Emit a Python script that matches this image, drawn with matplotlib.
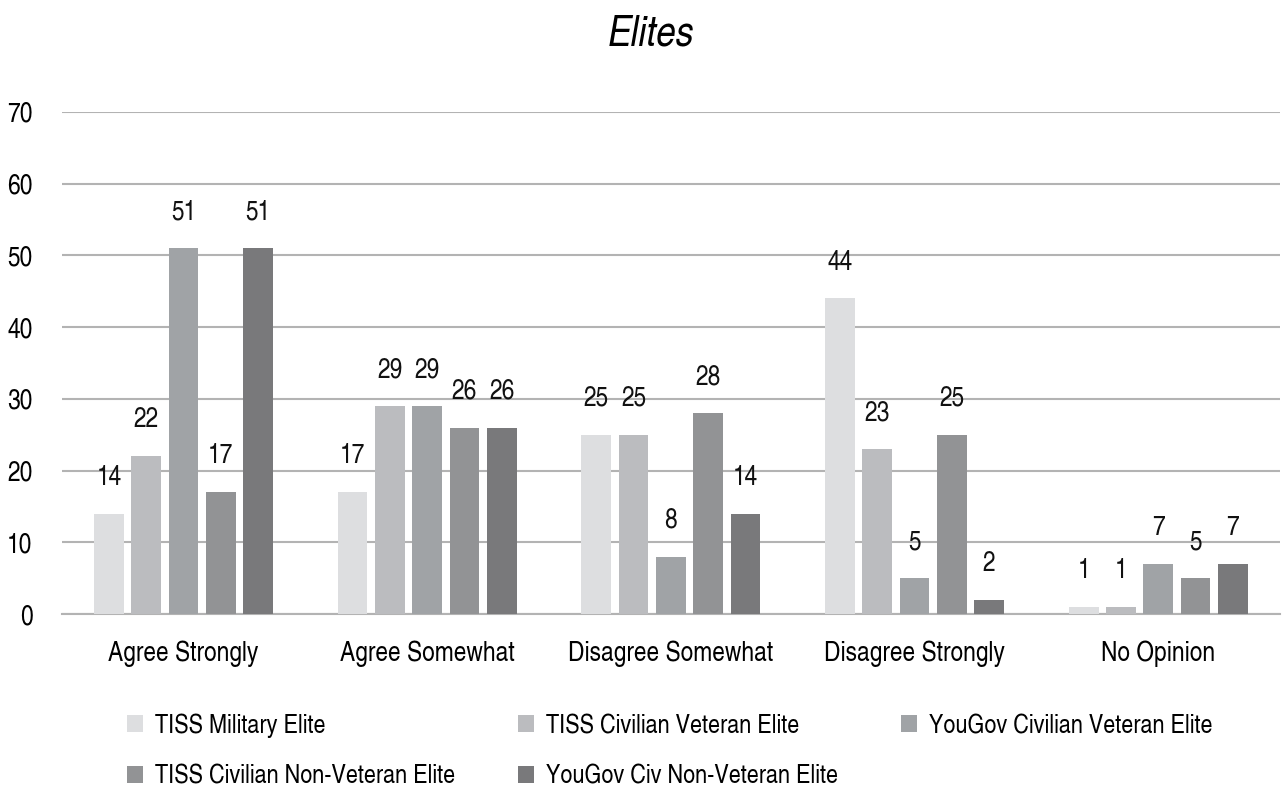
import numpy as np
import matplotlib.pyplot as plt

categories = ["Agree Strongly", "Agree Somewhat", "Disagree Somewhat",
              "Disagree Strongly", "No Opinion"]
series_names = ["TISS Military Elite", "TISS Civilian Veteran Elite",
                "YouGov Civilian Veteran Elite", "TISS Civilian Non-Veteran Elite",
                "YouGov Civ Non-Veteran Elite"]
tiss_military = [14, 17, 25, 44, 1]
tiss_civ_vet = [22, 29, 25, 23, 1]
yougov_civ_vet = [51, 29, 8, 5, 7]
tiss_civ_nonvet = [17, 26, 28, 25, 5]
yougov_civ_nonvet = [51, 26, 14, 2, 7]
colors = ["#DDDEE0", "#BBBCBF", "#A0A3A6", "#929395", "#79797B"]

plt.rcParams['font.family'] = ['TeX Gyre Heros Cn', 'DejaVu Sans']

fig = plt.figure(figsize=(12.84, 8.05), dpi=100)
ax = fig.add_axes([0.048, 0.237, 0.949, 0.624])

x = np.arange(len(categories))
step = 0.153
width = 0.122
all_series = [tiss_military, tiss_civ_vet, yougov_civ_vet, tiss_civ_nonvet, yougov_civ_nonvet]
handles = []
for i, vals in enumerate(all_series):
    pos = x + (i - 2) * step
    b = ax.bar(pos, vals, width, color=colors[i], label=series_names[i], zorder=3)
    handles.append(b)
    for p, v in zip(pos, vals):
        ax.text(p, v + 3.2, str(v), ha="center", va="bottom", fontsize=20, color="#111111")

ax.set_ylim(0, 70)
ax.set_yticks(range(0, 71, 10))
ax.set_xlim(-0.5, 4.5)
ax.set_xticks(x)
ax.set_xticklabels(categories)
ax.tick_params(axis="y", length=0, pad=21, labelsize=20)
ax.tick_params(axis="x", length=0, pad=19, labelsize=20)
ax.yaxis.grid(True, color="#B3B3B3", linewidth=1.5, zorder=0)
for s in ["top", "right", "left"]:
    ax.spines[s].set_visible(False)
ax.spines["bottom"].set_color("#B3B3B3")
ax.spines["bottom"].set_linewidth(1.5)

fig.text(0.507, 0.957, "Elites", fontsize=31, style="italic", ha="center", va="center")

order = [0, 3, 1, 4, 2]
fig.legend([handles[k] for k in order], [series_names[k] for k in order],
           ncol=3, loc="upper left", bbox_to_anchor=(0.0805, 0.143),
           frameon=False, fontsize=19, handlelength=0.6, handleheight=0.6,
           handletextpad=0.45, columnspacing=2.4, labelspacing=1.0)

fig.savefig("out.png", dpi=100)
